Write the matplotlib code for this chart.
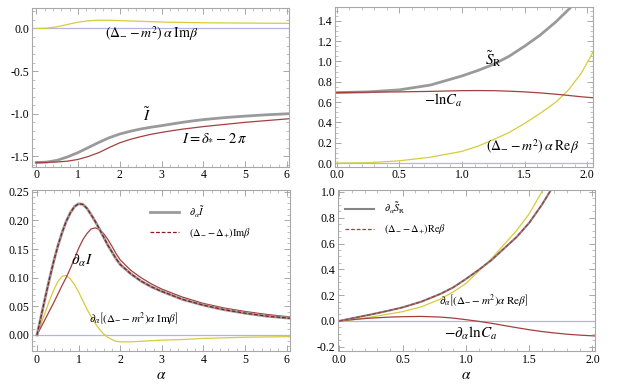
import numpy as np
import matplotlib
matplotlib.use('Agg')
import matplotlib.pyplot as plt
from matplotlib.ticker import MultipleLocator, FormatStrFormatter

plt.rcParams['mathtext.fontset'] = 'stix'
plt.rcParams['font.family'] = ['Liberation Serif', 'DejaVu Serif']
plt.rcParams['axes.unicode_minus'] = True

# colours (Mathematica-like)
GRAY = '#9a9a9a'
RED = '#a3403f'
DRED = '#8e1b1b'
YEL = '#d6cc3c'
BLUE = '#b4b4e0'
FRAME = '#a8a8a8'

# ---- top left: I tilde, I, (D- - m^2) a Im b
tl_alpha = [0, 0.25, 0.5, 0.75, 1.0, 1.25, 1.5, 1.75, 2.0, 2.25, 2.5, 2.75, 3.0, 3.25, 3.5,
            3.75, 4.0, 4.5, 5.0, 5.5, 6.0, 6.1]
tl_itilde = [-1.571, -1.566, -1.545, -1.505, -1.455, -1.395, -1.335, -1.28, -1.237, -1.205,
             -1.178, -1.157, -1.139, -1.119, -1.10, -1.083, -1.068, -1.045, -1.027, -1.012,
             -1.0, -0.997]
tl_i = [-1.571, -1.570, -1.565, -1.555, -1.535, -1.50, -1.455, -1.395, -1.34, -1.30, -1.268,
        -1.24, -1.218, -1.198, -1.18, -1.165, -1.15, -1.125, -1.10, -1.08, -1.06, -1.056]
tl_imb = [0.0, 0.003, 0.02, 0.047, 0.074, 0.09, 0.097, 0.096, 0.092, 0.088, 0.084, 0.08,
          0.076, 0.073, 0.071, 0.069, 0.067, 0.065, 0.063, 0.062, 0.06, 0.06]

# ---- top right: S_R tilde, -ln C_a, (D- - m^2) a Re b
tr_alpha = [0, 0.25, 0.5, 0.75, 1.0, 1.125, 1.25, 1.375, 1.5, 1.625, 1.75, 1.85, 1.95, 2.05]
tr_sr = [0.693, 0.70, 0.72, 0.768, 0.857, 0.91, 0.97, 1.05, 1.15, 1.26, 1.39, 1.51, 1.64, 1.78]
tr_lnc = [0.693, 0.697, 0.70, 0.705, 0.712, 0.713, 0.712, 0.707, 0.70, 0.69, 0.677, 0.665,
          0.652, 0.642]
tr_reb = [0.0, 0.003, 0.022, 0.058, 0.115, 0.165, 0.23, 0.30, 0.39, 0.49, 0.60, 0.72, 0.88, 1.10]

# ---- bottom left: derivatives
bl_alpha = [0, 0.1, 0.2, 0.3, 0.4, 0.5, 0.6, 0.7, 0.8, 0.9, 1.0, 1.1, 1.2, 1.3, 1.4, 1.5,
            1.6, 1.7, 1.8, 1.9, 2.0, 2.25, 2.5, 2.75, 3.0, 3.5, 4.0, 4.5, 5.0, 5.5, 6.0, 6.1]
bl_ditilde = [0, 0.033, 0.066, 0.098, 0.128, 0.155, 0.178, 0.198, 0.213, 0.224, 0.229, 0.228,
              0.221, 0.210, 0.198, 0.185, 0.171, 0.157, 0.145, 0.133, 0.123, 0.107, 0.094,
              0.084, 0.076, 0.062, 0.052, 0.044, 0.038, 0.033, 0.0297, 0.029]
bl_di = [0, 0.014, 0.028, 0.042, 0.056, 0.071, 0.086, 0.10, 0.116, 0.133, 0.151, 0.166, 0.177,
         0.185, 0.187, 0.184, 0.177, 0.167, 0.155, 0.142, 0.131, 0.113, 0.10, 0.089, 0.08,
         0.066, 0.055, 0.047, 0.041, 0.036, 0.032, 0.031]
bl_dimb = [0, 0.02, 0.04, 0.06, 0.078, 0.093, 0.102, 0.104, 0.098, 0.088, 0.075, 0.06, 0.045,
           0.032, 0.02, 0.01, 0.002, -0.004, -0.008, -0.011, -0.012, -0.012, -0.011, -0.010,
           -0.009, -0.008, -0.006, -0.005, -0.004, -0.0035, -0.003, -0.003]

# ---- bottom right
br_alpha = [0, 0.1, 0.25, 0.4, 0.5, 0.65, 0.8, 0.9, 1.0, 1.1, 1.2, 1.3, 1.4, 1.5, 1.6, 1.7]
br_dsr = [0, 0.02, 0.05, 0.082, 0.105, 0.15, 0.21, 0.26, 0.325, 0.395, 0.47, 0.56, 0.65,
          0.76, 0.90, 1.06]
br_dreb = [0, 0.008, 0.03, 0.055, 0.072, 0.11, 0.17, 0.225, 0.29, 0.385, 0.48, 0.59, 0.70,
           0.83, 1.0, 1.2]
br_alpha2 = [0, 0.1, 0.25, 0.4, 0.5, 0.65, 0.8, 0.9, 1.0, 1.1, 1.2, 1.3, 1.4, 1.5, 1.6,
             1.7, 1.8, 1.9, 2.03]
br_dlnc = [0, 0.01, 0.022, 0.03, 0.033, 0.035, 0.03, 0.022, 0.01, -0.003, -0.018, -0.035,
           -0.052, -0.068, -0.082, -0.093, -0.103, -0.11, -0.117]

W, H = 623, 389
fig = plt.figure(figsize=(W / 100, H / 100), dpi=100)


def box(l, r, t, b):
    return [l / W, (H - b) / H, (r - l) / W, (b - t) / H]


def style(ax, xmaj, xmin, ymaj, ymin, xfmt, yfmt):
    for s in ax.spines.values():
        s.set_color(FRAME)
        s.set_linewidth(0.8)
    ax.xaxis.set_major_locator(MultipleLocator(xmaj))
    ax.xaxis.set_minor_locator(MultipleLocator(xmin))
    ax.yaxis.set_major_locator(MultipleLocator(ymaj))
    ax.yaxis.set_minor_locator(MultipleLocator(ymin))
    ax.xaxis.set_major_formatter(FormatStrFormatter(xfmt))
    ax.yaxis.set_major_formatter(FormatStrFormatter(yfmt))
    ax.tick_params(which='both', direction='in', top=True, right=True, color=FRAME,
                   labelsize=8.5, pad=2)
    ax.tick_params(which='major', length=4, width=0.7)
    ax.tick_params(which='minor', length=2, width=0.5)


# top left
ax1 = fig.add_axes(box(32, 289, 8, 166.7))
ax1.axhline(0, color=BLUE, lw=0.9)
ax1.plot(tl_alpha, tl_imb, color=YEL, lw=0.9)
ax1.plot(tl_alpha, tl_itilde, color=GRAY, lw=2.0)
ax1.plot(tl_alpha, tl_i, color=RED, lw=0.9)
ax1.set_xlim(-0.1, 6.05)
ax1.set_ylim(-1.62, 0.24)
style(ax1, 1, 0.2, 0.5, 0.1, '%d', '%.1f')
ax1.text(2.77, -0.06, r'$\left(\Delta_{-}-m^2\right)\,\alpha\;\mathrm{Im}\beta$', fontsize=10,
         ha='center', va='center')
ax1.text(2.65, -1.02, r'$\tilde{I}$', fontsize=11, ha='center', va='center')
ax1.text(4.26, -1.277, r'$I=\delta_{*}-2\,\pi$', fontsize=10.5, ha='center', va='center')

# top right
ax2 = fig.add_axes(box(335, 592.7, 7, 166.7))
ax2.axhline(0, color=BLUE, lw=0.9)
ax2.plot(tr_alpha, tr_reb, color=YEL, lw=0.9)
ax2.plot(tr_alpha, tr_sr, color=GRAY, lw=2.0)
ax2.plot(tr_alpha, tr_lnc, color=RED, lw=0.9)
ax2.set_xlim(-0.014, 2.043)
ax2.set_ylim(-0.036, 1.535)
style(ax2, 0.5, 0.1, 0.2, 0.05, '%.1f', '%.1f')
ax2.text(1.25, 1.02, r'$\tilde{S}_{\mathrm{R}}$', fontsize=11, ha='center', va='center')
ax2.text(0.85, 0.62, r'$-\mathrm{ln}C_a$', fontsize=10.5, ha='center', va='center')
ax2.text(1.56, 0.163, r'$\left(\Delta_{-}-m^2\right)\,\alpha\;\mathrm{Re}\beta$', fontsize=10,
         ha='center', va='center')

# bottom left
ax3 = fig.add_axes(box(32, 290, 190, 351))
ax3.axhline(0, color=BLUE, lw=0.9)
ax3.plot(bl_alpha, bl_dimb, color=YEL, lw=0.9)
ax3.plot(bl_alpha, bl_di, color=RED, lw=0.9)
ax3.plot(bl_alpha, bl_ditilde, color=GRAY, lw=2.0, label=r'$\partial_\alpha\tilde{I}$')
ax3.plot(bl_alpha, bl_ditilde, color=DRED, lw=0.9, ls=(0, (3, 1.5)),
         label=r'$(\Delta_{-}-\Delta_{+})\mathrm{Im}\beta$')
ax3.set_xlim(-0.12, 6.08)
ax3.set_ylim(-0.028, 0.253)
style(ax3, 1, 0.2, 0.05, 0.01, '%d', '%.2f')
ax3.set_xlabel(r'$\alpha$', fontsize=11, labelpad=2)
ax3.text(1.07, 0.13, r'$\partial_\alpha I$', fontsize=11, ha='center', va='center')
ax3.text(2.33, 0.029, r'$\partial_\alpha\left[\left(\Delta_{-}-m^2\right)\alpha\;\mathrm{Im}\beta\right]$',
         fontsize=8, ha='center', va='center')
ax3.legend(loc='upper left', bbox_to_anchor=(0.42, 0.97), frameon=False, fontsize=7.5,
           handlelength=2.8, handletextpad=1.0, labelspacing=0.6)

# bottom right
ax4 = fig.add_axes(box(338, 595, 190, 351))
ax4.axhline(0, color=BLUE, lw=0.9)
ax4.plot(br_alpha, br_dreb, color=YEL, lw=0.9)
ax4.plot(br_alpha2, br_dlnc, color=RED, lw=0.9)
ax4.plot(br_alpha, br_dsr, color='#858585', lw=1.5, label=r'$\partial_\alpha\tilde{S}_{\mathrm{R}}$')
ax4.plot(br_alpha, br_dsr, color=RED, lw=0.9, ls=(0, (3, 1.5)),
         label=r'$(\Delta_{-}-\Delta_{+})\mathrm{Re}\beta$')
ax4.set_xlim(-0.01, 2.02)
ax4.set_ylim(-0.233, 1.015)
style(ax4, 0.5, 0.1, 0.2, 0.05, '%.1f', '%.1f')
ax4.set_xlabel(r'$\alpha$', fontsize=11, labelpad=2)
ax4.text(1.14, 0.163, r'$\partial_\alpha\left[\left(\Delta_{-}-m^2\right)\alpha\;\mathrm{Re}\beta\right]$',
         fontsize=8, ha='center', va='center')
ax4.text(1.04, -0.095, r'$-\partial_\alpha\mathrm{ln}C_a$', fontsize=11, ha='center', va='center')
ax4.legend(loc='upper left', bbox_to_anchor=(-0.01, 0.99), frameon=False, fontsize=7.5,
           handlelength=2.8, handletextpad=1.0, labelspacing=0.6)

fig.savefig('out.png', dpi=100)
